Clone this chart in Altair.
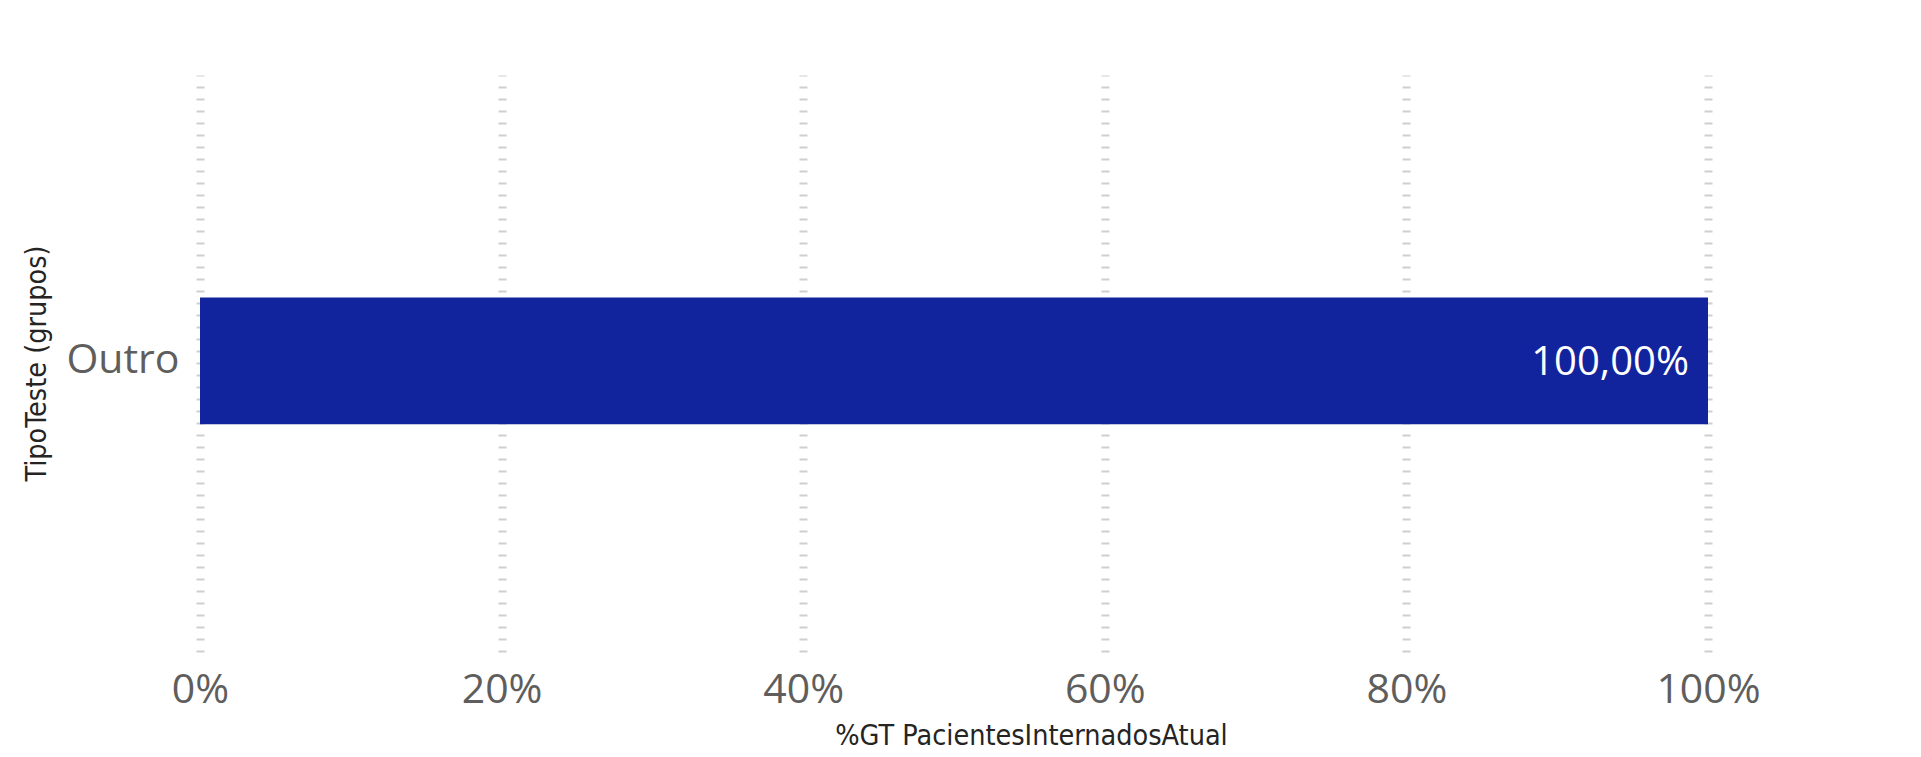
import altair as alt
import pandas as pd

categories = ["Outro"]
values = [1.0]
x_ticks = [0, 0.2, 0.4, 0.6, 0.8, 1.0]

df = pd.DataFrame({"TipoTeste (grupos)": categories, "pct": values})

FONT = "Open Sans"
TITLE_FONT = "DejaVu Sans Condensed"

y_enc = alt.Y(
    "TipoTeste (grupos):N",
    scale=alt.Scale(paddingInner=0.64, paddingOuter=0.64, align=0.494),
    axis=alt.Axis(
        title="TipoTeste (grupos)",
        domain=False,
        ticks=False,
        tickSize=0,
        grid=False,
        labelFont=FONT,
        labelFontSize=41,
        labelColor="#605E5C",
        labelPadding=21,
        titleFont=TITLE_FONT,
        titleFontSize=28.5,
        titleFontWeight="normal",
        titleColor="#252423",
        titleAngle=-90,
        titleAlign="center",
        titleBaseline="alphabetic",
        titleX=-155,
        titleY=288,
    ),
)

x_enc = alt.X(
    "pct:Q",
    scale=alt.Scale(domain=[0, 1], nice=False, zero=True),
    axis=alt.Axis(
        title="%GT PacientesInternadosAtual",
        values=x_ticks,
        format=".0%",
        domain=False,
        ticks=False,
        tickSize=0,
        grid=True,
        gridColor="#cfcfcf",
        gridWidth=8,
        gridDash=[2, 10],
        labelFont=FONT,
        labelFontSize=41,
        labelColor="#605E5C",
        labelBaseline="alphabetic",
        labelPadding=50,
        labelFlush=False,
        labelOverlap=False,
        labelBound=False,
        titleFont=TITLE_FONT,
        titleFontSize=28.5,
        titleFontWeight="normal",
        titleColor="#252423",
        titleAlign="center",
        titleBaseline="alphabetic",
        titleX=831,
        titleY=92,
    ),
)

bars = alt.Chart(df).mark_bar(color="#12239E").encode(x=x_enc, y=y_enc)

labels = (
    alt.Chart(df)
    .transform_calculate(lbl="replace(format(datum.pct, '.2%'), '.', ',')")
    .mark_text(
        align="right",
        baseline="middle",
        dx=-19,
        dy=2,
        font=FONT,
        fontSize=40,
        color="#ffffff",
    )
    .encode(x="pct:Q", y="TipoTeste (grupos):N", text="lbl:N")
)

chart = (
    alt.layer(bars, labels)
    .properties(
        width=1508,
        height=577,
        autosize=alt.AutoSizeParams(type="none"),
        padding={"left": 192, "top": 67, "right": 205, "bottom": 106},
        background="#ffffff",
    )
    .configure_view(stroke=None)
)

chart.save("out.html", embed_options={"renderer": "svg", "actions": False})
